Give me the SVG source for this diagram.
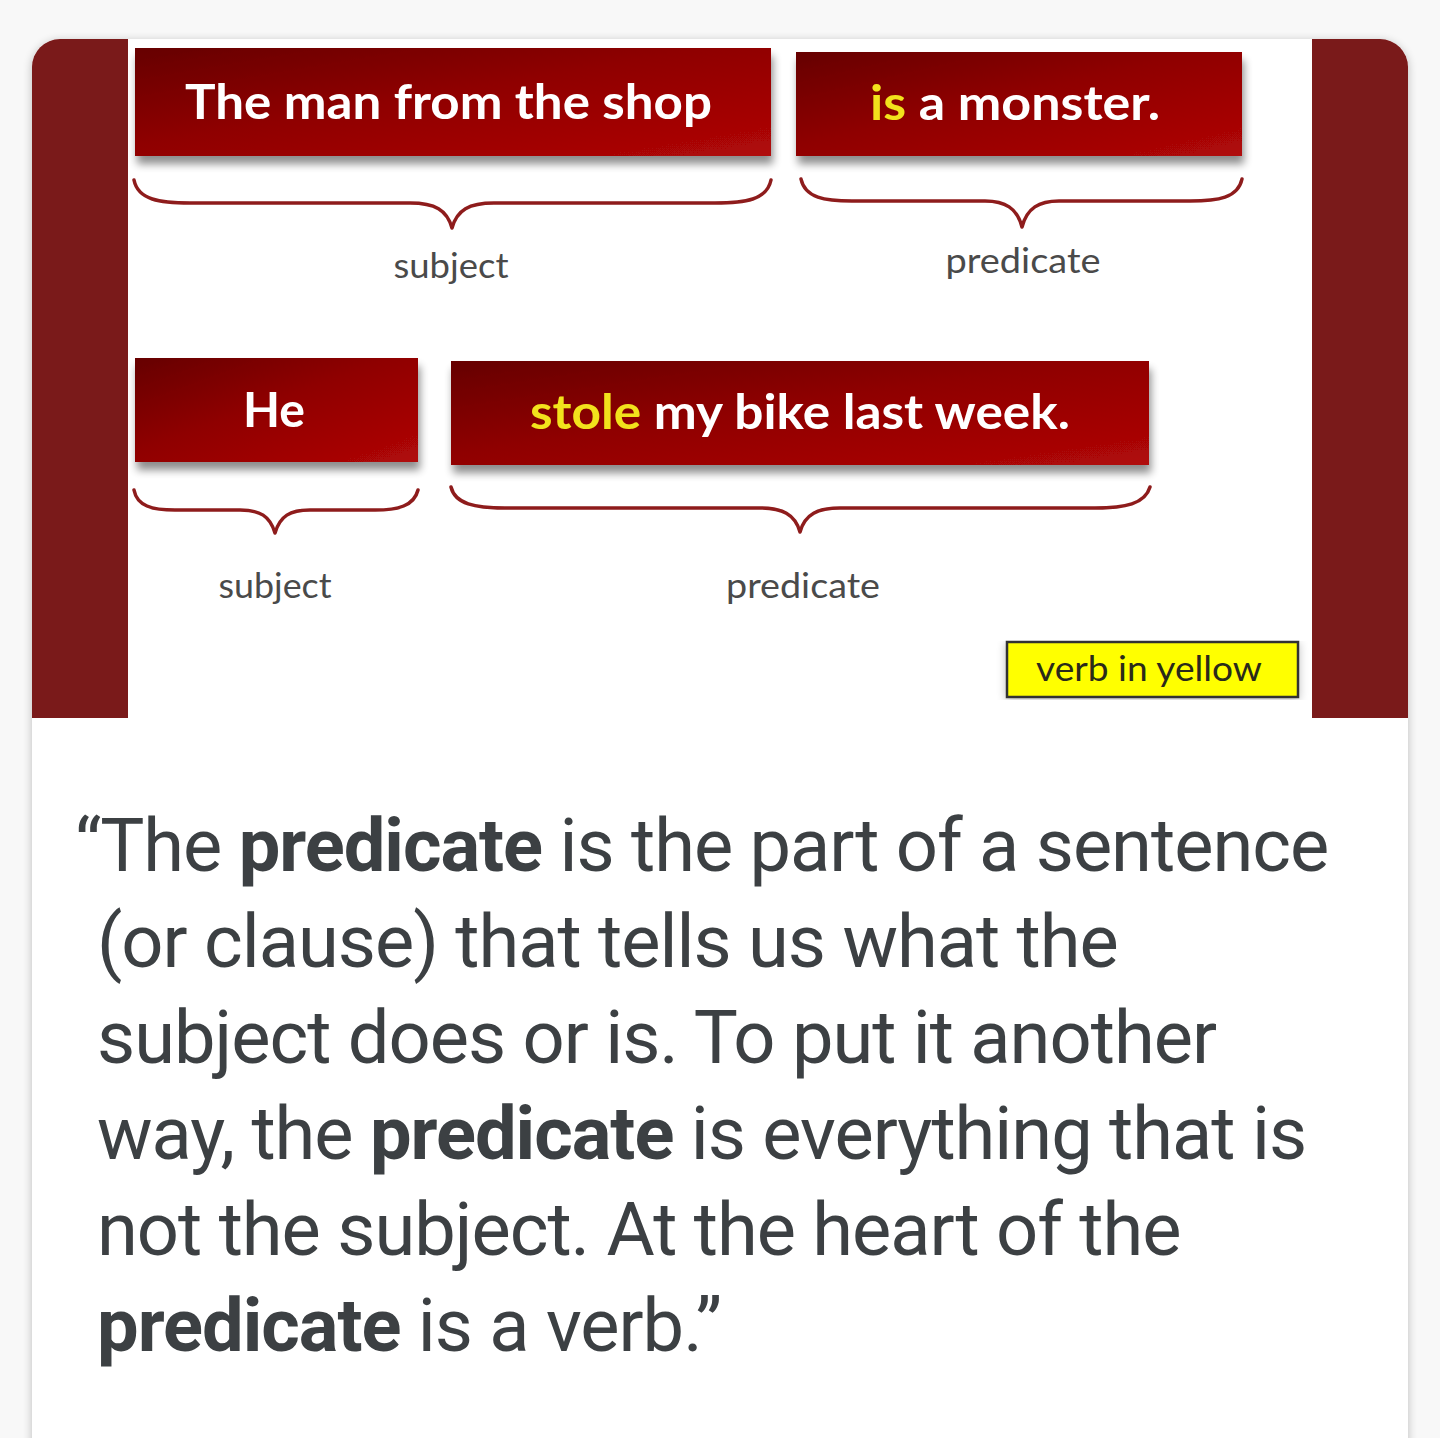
<svg xmlns="http://www.w3.org/2000/svg" width="1440" height="1438" viewBox="0 0 1440 1438">
<defs>
<style>
.box-label{font-family:Lato,"Open Sans",sans-serif;font-weight:700;fill:#ffffff}
.verb{fill:#f2e21c}
.tag{font-family:Lato,"Open Sans",sans-serif;font-size:34px;fill:#4a4a4a;text-anchor:middle}
.brace{fill:none;stroke:#8e1c1c;stroke-width:3.5;stroke-linecap:round;stroke-linejoin:round}
.para{font-family:Roboto,"Noto Sans",sans-serif;font-size:74px;letter-spacing:-1px;fill:#3c4043}
.b{font-weight:700}
</style>
<linearGradient id="red" x1="0" y1="0" x2="1" y2="1">
<stop offset="0" stop-color="#660000"/>
<stop offset="0.45" stop-color="#8f0000"/>
<stop offset="1" stop-color="#b00808"/>
</linearGradient>
<filter id="bshadow" x="-5%" y="-10%" width="110%" height="140%">
<feGaussianBlur in="SourceAlpha" stdDeviation="4"/>
<feOffset dx="2" dy="8" result="o"/>
<feComponentTransfer><feFuncA type="linear" slope="0.45"/></feComponentTransfer>
<feMerge><feMergeNode/><feMergeNode in="SourceGraphic"/></feMerge>
</filter>
<filter id="cshadow" x="-5%" y="-5%" width="110%" height="110%">
<feGaussianBlur in="SourceAlpha" stdDeviation="5"/>
<feOffset dx="0" dy="2"/>
<feComponentTransfer><feFuncA type="linear" slope="0.25"/></feComponentTransfer>
<feMerge><feMergeNode/><feMergeNode in="SourceGraphic"/></feMerge>
</filter>
<clipPath id="cardclip"><rect x="32" y="39" width="1376" height="1440" rx="28"/></clipPath>
</defs>
<rect width="1440" height="1438" fill="#f8f8f8"/>
<rect id="card" x="32" y="39" width="1376" height="1440" rx="28" fill="#ffffff" filter="url(#cshadow)"/>
<g clip-path="url(#cardclip)">
<rect x="32" y="39" width="96" height="679" fill="#7a1a1a"/>
<rect x="1312" y="39" width="96" height="679" fill="#7a1a1a"/>
<rect x="128" y="39" width="1184" height="679" fill="#ffffff"/>
</g>

<g id="node-subject1">
<rect x="135" y="48" width="636" height="108" fill="url(#red)" filter="url(#bshadow)"/>
<text class="box-label" x="185" y="119" font-size="48" textLength="527" lengthAdjust="spacingAndGlyphs">The man from the shop</text>
</g>
<g id="node-predicate1">
<rect x="796" y="52" width="446" height="104" fill="url(#red)" filter="url(#bshadow)"/>
<text class="box-label" x="870" y="120" font-size="48" textLength="290" lengthAdjust="spacingAndGlyphs"><tspan class="verb">is</tspan> a monster.</text>
</g>
<g id="node-subject2">
<rect x="135" y="358" width="283" height="104" fill="url(#red)" filter="url(#bshadow)"/>
<text class="box-label" x="243" y="427" font-size="48" textLength="62" lengthAdjust="spacingAndGlyphs">He</text>
</g>
<g id="node-predicate2">
<rect x="451" y="361" width="698" height="104" fill="url(#red)" filter="url(#bshadow)"/>
<text class="box-label" x="530" y="429" font-size="48" textLength="540" lengthAdjust="spacingAndGlyphs"><tspan class="verb">stole</tspan> my bike last week.</text>
</g>

<g id="connectors">
<path class="brace" d="M134 180 C 138 200, 160 203, 190 203 L 410 203 C 435 203, 447 210, 452 228 C 457 210, 469 203, 494 203 L 715 203 C 745 203, 767 200, 771 180"/>
<path class="brace" d="M801 179 C 805 198, 825 201, 852 201 L 985 201 C 1005 201, 1017 208, 1022 227 C 1027 208, 1039 201, 1059 201 L 1190 201 C 1218 201, 1238 198, 1242 179"/>
<path class="brace" d="M134 490 C 137 506, 152 510, 175 510 L 240 510 C 260 510, 270 516, 275 533 C 280 516, 290 510, 310 510 L 375 510 C 398 510, 414 506, 418 490"/>
<path class="brace" d="M451 487 C 455 504, 475 508, 505 508 L 760 508 C 782 508, 795 514, 800 532 C 805 514, 818 508, 840 508 L 1095 508 C 1125 508, 1145 504, 1150 487"/>
</g>

<g id="label-subject1"><text class="tag" x="451" y="278" textLength="115" lengthAdjust="spacingAndGlyphs">subject</text></g>
<g id="label-predicate1"><text class="tag" x="1023" y="273" textLength="155" lengthAdjust="spacingAndGlyphs">predicate</text></g>
<g id="label-subject2"><text class="tag" x="275" y="598" textLength="113" lengthAdjust="spacingAndGlyphs">subject</text></g>
<g id="label-predicate2"><text class="tag" x="803" y="598" textLength="154" lengthAdjust="spacingAndGlyphs">predicate</text></g>

<g id="legend">
<rect x="1007" y="642" width="291" height="55" fill="#ffff00" stroke="#333333" stroke-width="2.5" filter="url(#cshadow)"/>
<text x="1036" y="681" font-family="Lato,'Open Sans',sans-serif" font-size="34" fill="#2a2a1a" textLength="226" lengthAdjust="spacingAndGlyphs">verb in yellow</text>
</g>

<g id="quote">
<text class="para" x="75" y="871">“The <tspan class="b">predicate</tspan> is the part of a sentence</text>
<text class="para" x="97" y="967">(or clause) that tells us what the</text>
<text class="para" x="97" y="1063">subject does or is. To put it another</text>
<text class="para" x="97" y="1159">way, the <tspan class="b">predicate</tspan> is everything that is</text>
<text class="para" x="97" y="1255">not the subject. At the heart of the</text>
<text class="para" x="97" y="1351"><tspan class="b">predicate</tspan> is a verb.”</text>
</g>
</svg>
